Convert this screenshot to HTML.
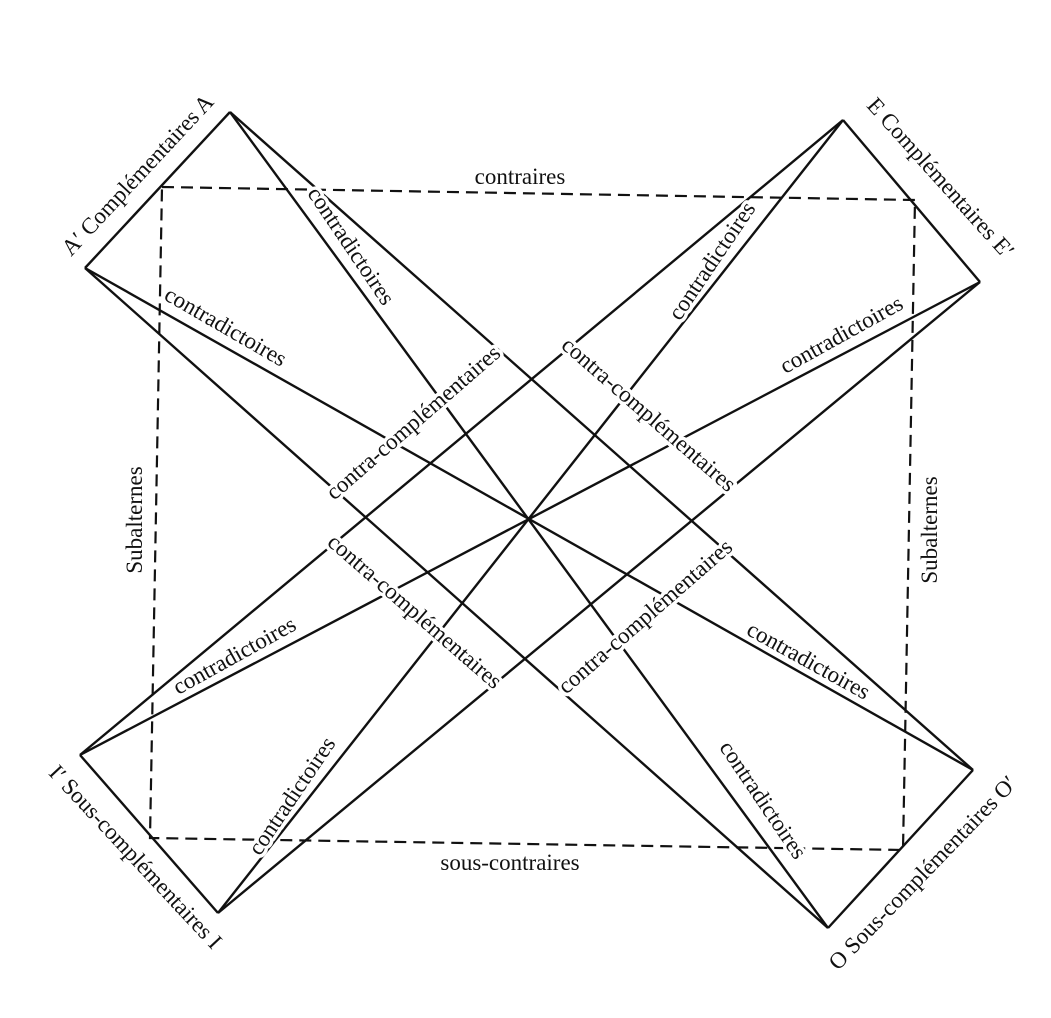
<!DOCTYPE html><html><head><style>body{margin:0;background:#fff}svg text{font-family:"Liberation Serif",serif;font-size:23px;fill:#111;stroke:#fff;stroke-width:7px;paint-order:stroke;stroke-linejoin:round}</style></head><body>
<svg width="1051" height="1013" viewBox="0 0 1051 1013">
<rect width="1051" height="1013" fill="#fff"/>
<g stroke="#111" stroke-width="2.4" fill="none">
<polygon points="162,187 915,200 903,850 150,838" stroke-dasharray="12,7" stroke-width="2.2"/>
<line x1="230" y1="112" x2="85" y2="268"/>
<line x1="843" y1="120" x2="980" y2="282"/>
<line x1="80" y1="755" x2="218" y2="913"/>
<line x1="828" y1="928" x2="973" y2="770"/>
<line x1="230" y1="112" x2="828" y2="928"/>
<line x1="85" y1="268" x2="973" y2="770"/>
<line x1="843" y1="120" x2="218" y2="913"/>
<line x1="980" y1="282" x2="80" y2="755"/>
<line x1="230" y1="112" x2="973" y2="770"/>
<line x1="85" y1="268" x2="828" y2="928"/>
<line x1="843" y1="120" x2="80" y2="755"/>
<line x1="980" y1="282" x2="218" y2="913"/>
</g>
<g text-anchor="middle">
<text x="143" y="180" transform="rotate(-47 143 180)">A′ Complémentaires A</text>
<text x="935" y="183" transform="rotate(48 935 183)">E Complémentaires E′</text>
<text x="130" y="862" transform="rotate(47 130 862)">I′ Sous-complémentaires I</text>
<text x="928" y="878" transform="rotate(-46 928 878)">O Sous-complémentaires O′</text>
<text x="520" y="184">contraires</text>
<text x="510" y="870">sous-contraires</text>
<text x="142" y="520" transform="rotate(-90 142 520)">Subalternes</text>
<text x="937" y="530" transform="rotate(-90 937 530)">Subalternes</text>
<text x="345" y="250" transform="rotate(56 345 250)">contradictoires</text>
<text x="222" y="333" transform="rotate(30 222 333)">contradictoires</text>
<text x="718" y="265" transform="rotate(-56 718 265)">contradictoires</text>
<text x="845" y="341" transform="rotate(-29 845 341)">contradictoires</text>
<text x="238" y="662" transform="rotate(-29 238 662)">contradictoires</text>
<text x="298" y="800" transform="rotate(-56 298 800)">contradictoires</text>
<text x="805" y="667" transform="rotate(29 805 667)">contradictoires</text>
<text x="757" y="804" transform="rotate(56 757 804)">contradictoires</text>
<text x="418" y="428" transform="rotate(-41 418 428)">contra-complémentaires</text>
<text x="644" y="420" transform="rotate(41 644 420)">contra-complémentaires</text>
<text x="410" y="617" transform="rotate(41 410 617)">contra-complémentaires</text>
<text x="650" y="622" transform="rotate(-41 650 622)">contra-complémentaires</text>
</g>
</svg></body></html>
